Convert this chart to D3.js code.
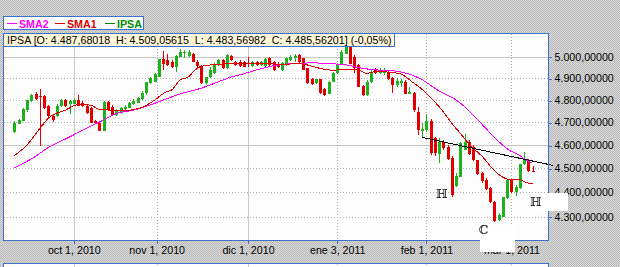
<!DOCTYPE html>
<html>
<head>
<meta charset="utf-8">
<script src="https://cdn.jsdelivr.net/npm/d3@7"></script>
<style>
  body { margin: 0; background: #d0d0d0; }
  svg { display: block; font-family: "Liberation Sans", Arial, sans-serif; }
  .mark { filter: brightness(0); }
</style>
</head>
<body>
<svg id="chart" width="620" height="267"></svg>
<script>
// IPSA daily candles, index 0 .. 122 (sep 2010 - mar 2011)
var open = [4659, 4692, 4707, 4754, 4794, 4829, 4817, 4817, 4772, 4728,
  4728, 4773, 4802, 4781, 4784, 4799, 4788, 4775, 4762, 4705,
  4698, 4663, 4790, 4769, 4731, 4740, 4759, 4765, 4781, 4788,
  4803, 4834, 4876, 4883, 4906, 4987, 4984, 4975, 4953, 5000,
  5018, 5003, 5012, 4976, 4956, 4876, 4903, 4922, 4961, 4984,
  4945, 5003, 4976, 4975, 4975, 4970, 4956, 4975, 4961, 4956,
  4992, 4976, 4968, 4937, 4961, 4984, 4993, 5007, 4992, 4945,
  4894, 4876, 4894, 4852, 4829, 4883, 4922, 4968, 5015, 5050,
  5000, 4961, 4863, 4822, 4882, 4940, 4923, 4923, 4930, 4899,
  4868, 4876, 4883, 4829, 4832, 4747, 4663, 4666, 4707, 4631,
  4563, 4612, 4594, 4545, 4428, 4465, 4580, 4612, 4594, 4535,
  4479, 4453, 4418, 4362, 4287, 4300, 4375, 4453, 4400, 4418,
  4517, 4530, 4487.68018];
var high = [4705, 4714, 4762, 4802, 4829, 4837, 4848, 4822, 4777, 4737,
  4780, 4805, 4805, 4799, 4811, 4824, 4794, 4784, 4769, 4710,
  4701, 4794, 4794, 4777, 4759, 4768, 4777, 4791, 4803, 4812,
  4840, 4883, 4906, 4922, 4990, 5026, 5011, 4984, 5007, 5038,
  5031, 5034, 5017, 4984, 4961, 4906, 4950, 4970, 4987, 4989,
  5011, 5007, 4979, 4984, 4979, 4998, 4979, 4979, 4979, 4993,
  4998, 4979, 4975, 4975, 4995, 5007, 5012, 5015, 4995, 4948,
  4899, 4897, 4895, 4855, 4886, 4928, 4971, 5031, 5059, 5059,
  5007, 4965, 4868, 4891, 4937, 4947, 4947, 4945, 4937, 4906,
  4900, 4894, 4891, 4857, 4835, 4769, 4697, 4737, 4717, 4636,
  4631, 4623, 4601, 4552, 4482, 4612, 4649, 4623, 4601, 4538,
  4484, 4458, 4421, 4366, 4314, 4382, 4456, 4456, 4432, 4521,
  4569, 4540, 4509.05615];
var low = [4652, 4691, 4705, 4747, 4790, 4799, 4597, 4759, 4725, 4703,
  4725, 4769, 4770, 4737, 4781, 4772, 4769, 4737, 4695, 4691,
  4660, 4660, 4750, 4728, 4729, 4737, 4754, 4762, 4777, 4785,
  4800, 4822, 4872, 4880, 4905, 4937, 4956, 4945, 4930, 4997,
  4992, 5000, 4975, 4953, 4872, 4868, 4899, 4919, 4956, 4942,
  4942, 4979, 4956, 4951, 4951, 4951, 4953, 4956, 4956, 4953,
  4956, 4933, 4947, 4934, 4956, 4981, 4976, 4968, 4937, 4875,
  4868, 4872, 4829, 4818, 4826, 4880, 4919, 4965, 5012, 4965,
  4922, 4857, 4818, 4818, 4877, 4919, 4919, 4914, 4891, 4832,
  4860, 4860, 4827, 4827, 4747, 4644, 4636, 4659, 4559, 4552,
  4525, 4580, 4538, 4382, 4422, 4462, 4577, 4559, 4532, 4472,
  4439, 4410, 4356, 4280, 4284, 4299, 4374, 4397, 4383, 4414,
  4513, 4485, 4483.56982];
var close = [4698, 4710, 4759, 4799, 4824, 4803, 4814, 4762, 4728, 4710,
  4775, 4802, 4773, 4796, 4802, 4775, 4772, 4740, 4698, 4695,
  4663, 4791, 4754, 4731, 4754, 4765, 4769, 4788, 4794, 4810,
  4834, 4880, 4901, 4917, 4987, 4968, 4961, 4951, 5003, 5022,
  5022, 5022, 4976, 4956, 4876, 4903, 4937, 4968, 4984, 4945,
  5007, 4984, 4961, 4956, 4953, 4968, 4976, 4961, 4976, 4987,
  4961, 4937, 4953, 4971, 4992, 5000, 5003, 4976, 4940, 4878,
  4872, 4894, 4832, 4822, 4883, 4925, 4968, 5022, 5050, 4968,
  4945, 4860, 4822, 4883, 4928, 4922, 4940, 4937, 4894, 4868,
  4886, 4888, 4829, 4837, 4754, 4666, 4669, 4707, 4567, 4567,
  4612, 4588, 4542, 4389, 4467, 4609, 4612, 4563, 4535, 4475,
  4446, 4414, 4358, 4284, 4307, 4379, 4453, 4400, 4422, 4517,
  4535, 4488, 4485.56201];
var changeText = '-0,05%';

// moving averages at these candle positions
var sma1Idx = [0, 3, 6, 8, 12, 15, 18, 20, 23, 25, 30, 32.3, 35.9, 37, 39, 41, 42.5, 43.7, 46, 48,
  54, 64, 67, 69, 72, 75, 78, 81, 83, 85, 88, 91, 93.6, 96, 98.6, 101, 103.3, 104.9, 107.2,
  110.4, 112.7, 115.1, 116.7, 119, 120.2, 122];
var sma1Val = [4555, 4601, 4673, 4718, 4754, 4779, 4777, 4757, 4754, 4751, 4766, 4790, 4838, 4845, 4891, 4906, 4937, 4953, 4961, 4965,
  4968, 4965, 4968, 4961, 4945, 4937, 4940, 4937, 4922, 4930, 4928, 4919, 4883, 4848, 4799, 4746, 4688, 4653, 4601,
  4546, 4496, 4462, 4452, 4453, 4442, 4436];
var sma2Idx = [0, 4.5, 8.4, 12.3, 16.2, 20.2, 24.1, 28, 31.9, 35.9, 39.8, 43.7, 48, 51.2, 54.3, 57.4, 60.6,
  63.7, 70.4, 78.2, 82.1, 86, 89.2, 92.4, 95.5, 100.2, 104.1, 108.4, 112, 116.3, 119, 120.5, 121.8];
var sma2Val = [4502, 4546, 4594, 4629, 4666, 4703, 4740, 4754, 4777, 4806, 4832, 4852, 4883, 4906, 4922, 4940, 4956,
  4965, 4971, 4961, 4945, 4937, 4934, 4922, 4898, 4838, 4799, 4725, 4653, 4580, 4555, 4535, 4525];

// hand drawn trend line and head-shoulders marks
var trendIdx = [95.9, 126.8];
var trendVal = [4634, 4513];
var markIdx = [100.6, 110.5, 122.7];
var markVal = [4395, 4249, 4361];
var markText = ['\u210D', '\u2102', '\u210D'];

var yTicks = [5000, 4900, 4800, 4700, 4600, 4500, 4400, 4300];
var xTickIdx = [14, 33.5, 55, 76, 97, 117];
var xTickLabels = ['oct 1, 2010', 'nov 1, 2010', 'dic 1, 2010', 'ene 3, 2011', 'feb 1, 2011', 'mar 1, 2011'];

var plot = { left: 3.5, top: 33.5, right: 548.5, bottom: 240.5 };
var blue = '#3a70c8';
var fontSize = '10.67px';
var up = '#1fb21f', down = '#e00000';

var locale = d3.formatLocale({ decimal: ',', thousands: '.', grouping: [3], currency: ['', ''] });
var fmt = locale.format(',.5f');

var svg = d3.select('#chart');

// grey dithered background
var defs = svg.append('defs');
var pat = defs.append('pattern')
  .attr('id', 'dots').attr('width', 2).attr('height', 2)
  .attr('patternUnits', 'userSpaceOnUse');
pat.append('rect').attr('width', 2).attr('height', 2).attr('fill', '#dadada');
pat.append('rect').attr('width', 1).attr('height', 1).attr('fill', '#b9b9b9');
pat.append('rect').attr('x', 1).attr('y', 1).attr('width', 1).attr('height', 1).attr('fill', '#b9b9b9');
defs.append('clipPath').attr('id', 'clip')
  .append('rect')
    .attr('x', plot.left).attr('y', plot.top)
    .attr('width', plot.right - plot.left).attr('height', plot.bottom - plot.top);

svg.append('rect').attr('width', 620).attr('height', 267).attr('fill', 'url(#dots)');

var x = d3.scaleLinear().domain([0, 122]).range([14.3, 532.7]);
var y = d3.scaleLog().domain([4300, 5000]).range([216.7, 56.7]);

function px (v) { return Math.round(v) + 0.5; }

// plot panel
svg.append('rect')
  .attr('x', plot.left).attr('y', plot.top)
  .attr('width', plot.right - plot.left).attr('height', plot.bottom - plot.top)
  .attr('fill', '#fcfdfc');

// lower panel (only its top edge shows)
svg.append('rect')
  .attr('x', plot.left).attr('y', 263.5)
  .attr('width', plot.right - plot.left).attr('height', 20)
  .attr('fill', '#fcfdfc').attr('stroke', blue);

var solidY = [5000, 4600];
var solidX = [14, 55];

var grid = svg.append('g').attr('shape-rendering', 'crispEdges');
grid.selectAll('.hg')
  .data(yTicks)
  .enter().append('line')
    .attr('x1', plot.left).attr('x2', plot.right)
    .attr('y1', d => px(y(d))).attr('y2', d => px(y(d)))
    .attr('stroke', d => solidY.includes(d) ? '#c8c8c8' : '#b0b0b0')
    .attr('stroke-dasharray', d => solidY.includes(d) ? null : '1,2');
grid.selectAll('.vg')
  .data(xTickIdx)
  .enter().append('line')
    .attr('x1', d => px(x(d))).attr('x2', d => px(x(d)))
    .attr('y1', plot.top).attr('y2', plot.bottom)
    .attr('stroke', d => solidX.includes(d) ? '#c8c8c8' : '#b0b0b0')
    .attr('stroke-dasharray', d => solidX.includes(d) ? null : '1,2');
grid.selectAll('.vg2')
  .data(xTickIdx)
  .enter().append('line')
    .attr('x1', d => px(x(d))).attr('x2', d => px(x(d)))
    .attr('y1', 264).attr('y2', 267)
    .attr('stroke', d => solidX.includes(d) ? '#c8c8c8' : '#b0b0b0')
    .attr('stroke-dasharray', d => solidX.includes(d) ? null : '1,2');

// candles
var candles = d3.range(open.length).map(i => ({
  i: i, o: open[i], h: high[i], l: low[i], c: close[i]
}));
var cg = svg.append('g').attr('clip-path', 'url(#clip)').attr('shape-rendering', 'crispEdges');
var cs = cg.selectAll('.candle')
  .data(candles)
  .enter().append('g')
    .attr('class', 'candle');
cs.append('line')
  .attr('x1', d => px(x(d.i))).attr('x2', d => px(x(d.i)))
  .attr('y1', d => y(d.h)).attr('y2', d => y(d.l))
  .attr('stroke', d => d.c >= d.o ? up : down);
cs.append('rect')
  .attr('x', d => Math.round(x(d.i)) - 1)
  .attr('width', 3)
  .attr('y', d => y(Math.max(d.o, d.c)))
  .attr('height', d => Math.max(1, y(Math.min(d.o, d.c)) - y(Math.max(d.o, d.c))))
  .attr('fill', d => d.c >= d.o ? up : down);

// moving averages
var line = d3.line().x(d => x(d[0])).y(d => y(d[1])).curve(d3.curveMonotoneX);
cg.append('path')
  .datum(d3.zip(sma2Idx, sma2Val))
  .attr('d', line).attr('fill', 'none').attr('stroke', '#ff00ff');
cg.append('path')
  .datum(d3.zip(sma1Idx, sma1Val))
  .attr('d', line).attr('fill', 'none').attr('stroke', '#e00000');

// trend line runs a little past the plot edge
svg.append('path')
  .datum(d3.zip(trendIdx, trendVal))
  .attr('d', d3.line().x(d => x(d[0])).y(d => y(d[1])))
  .attr('fill', 'none').attr('stroke', '#000')
  .attr('shape-rendering', 'crispEdges');

// plot border
svg.append('rect')
  .attr('x', plot.left).attr('y', plot.top)
  .attr('width', plot.right - plot.left).attr('height', plot.bottom - plot.top)
  .attr('fill', 'none').attr('stroke', blue).attr('shape-rendering', 'crispEdges');

// axes
var yAxis = svg.append('g')
  .attr('transform', `translate(${plot.right}, 0)`)
  .call(d3.axisRight(y).tickValues(yTicks).tickFormat(fmt).tickSize(3).tickPadding(3));
var xAxis = svg.append('g')
  .attr('transform', `translate(0, ${plot.bottom})`)
  .call(d3.axisBottom(x).tickValues(xTickIdx).tickFormat((d, i) => xTickLabels[i]).tickSize(3).tickPadding(3));
[yAxis, xAxis].forEach(function (ax) {
  ax.select('.domain').remove();
  ax.selectAll('.tick line').attr('stroke', blue).attr('shape-rendering', 'crispEdges');
  ax.selectAll('.tick text')
    .attr('fill', '#000')
    .style('font-family', '"Liberation Sans", Arial, sans-serif')
    .style('font-size', fontSize);
});
yAxis.selectAll('.tick line').attr('transform', 'translate(0,0.5)');

// head-shoulders marks; the C and right H sit on white label boxes
var boxes = [null, { dx: -4, dy: -4.5, w: 35, h: 27 }, { dx: -5, dy: -8.5, w: 37, h: 18 }];
markIdx.forEach(function (mi, k) {
  var cx = x(mi), cy = y(markVal[k]);
  var b = boxes[k];
  if (b) {
    svg.append('rect')
      .attr('x', Math.round(cx + b.dx)).attr('y', Math.round(cy + b.dy))
      .attr('width', b.w).attr('height', b.h)
      .attr('fill', '#fff');
  }
  svg.append('text')
    .attr('class', 'mark')
    .attr('x', cx).attr('y', cy)
    .attr('text-anchor', 'middle').attr('dy', '0.36em')
    .style('font-family', '"DejaVu Serif", serif')
    .style('font-size', '12px')
    .attr('fill', '#000')
    .text(markText[k]);
});

// info bar for the last candle
var last = open.length - 1;
svg.append('rect')
  .attr('x', 3.5).attr('y', 33.5).attr('width', 391).attr('height', 13)
  .attr('fill', '#fff7d7').attr('stroke', blue).attr('shape-rendering', 'crispEdges');
svg.append('text')
  .attr('x', 7).attr('y', 44)
  .style('font-size', fontSize).style('white-space', 'pre')
  .attr('fill', '#000')
  .text(`IPSA [O: ${fmt(open[last])}  H: ${fmt(high[last])}  L: ${fmt(low[last])}  C: ${fmt(close[last])}] (${changeText})`);

// legend
var legend = [
  { name: 'SMA2', color: '#ff00ff', x: 7 },
  { name: 'SMA1', color: '#e00000', x: 55 },
  { name: 'IPSA', color: '#008a00', x: 105 }
];
svg.append('rect')
  .attr('x', 3.5).attr('y', 16.5).attr('width', 140).attr('height', 13)
  .attr('fill', '#fff').attr('stroke', blue).attr('shape-rendering', 'crispEdges');
var lg = svg.selectAll('.leg')
  .data(legend)
  .enter().append('g');
lg.append('line')
  .attr('x1', d => d.x).attr('x2', d => d.x + 10)
  .attr('y1', 23.5).attr('y2', 23.5)
  .attr('stroke', d => d.color).attr('shape-rendering', 'crispEdges');
lg.append('text')
  .attr('x', d => d.x + 12).attr('y', 27.5)
  .style('font-size', fontSize).style('font-weight', 'bold')
  .attr('fill', d => d.color)
  .text(d => d.name);
</script>
</body>
</html>
